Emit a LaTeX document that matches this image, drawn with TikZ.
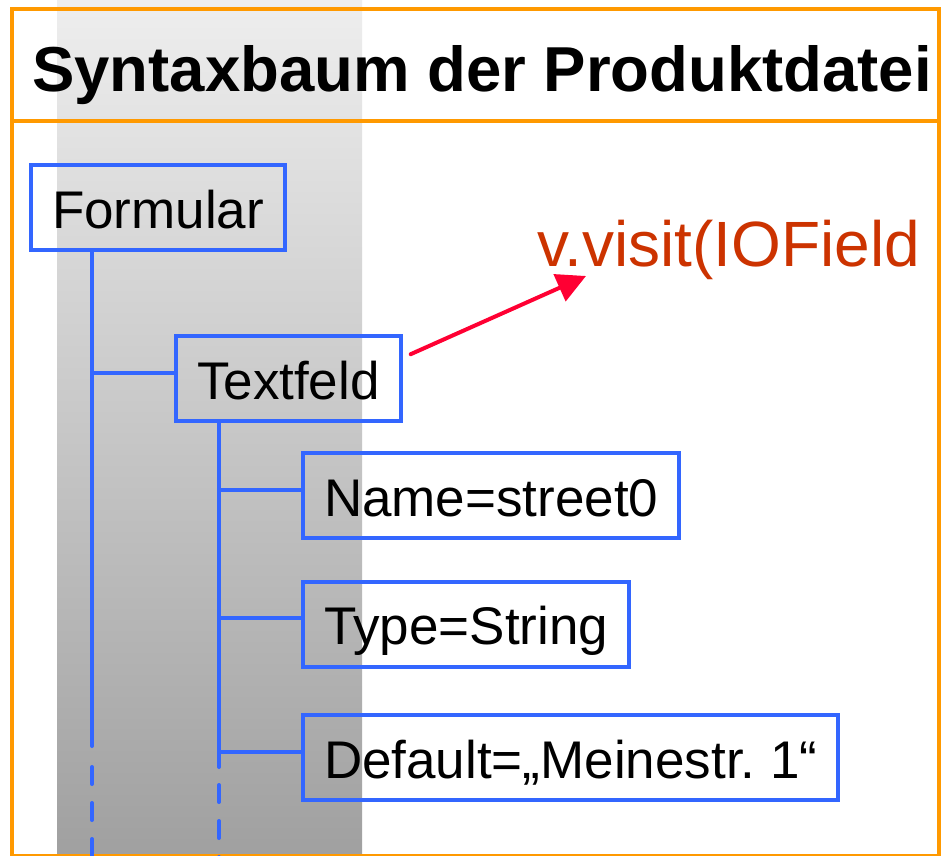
\documentclass[tikz,border=0pt]{standalone}
\usepackage{fontspec}
\setmainfont{Liberation Sans}
\usepackage{xcolor}
\usepackage{tikz}
\usetikzlibrary{arrows.meta}
\definecolor{treeblue}{HTML}{3366FF}
\definecolor{frameorange}{HTML}{FF9900}
\definecolor{arrowred}{HTML}{FF0033}
\definecolor{visitred}{HTML}{CC3300}
\definecolor{bandtop}{HTML}{EEEEEE}
\definecolor{bandbottom}{HTML}{A0A0A0}

\begin{document}
\begin{tikzpicture}[
    x=1pt, y=-1pt,
    treebox/.style={rectangle, draw=treeblue, line width=4pt, anchor=west, inner xsep=21pt, minimum height=85pt, text height=41pt, text depth=0pt, font=\fontsize{53pt}{60pt}\selectfont},
    branch/.style={draw=treeblue, line width=4pt, line cap=round},
    trunkdash/.style={branch, dash pattern=on 17pt off 19pt},
    visitarrow/.style={-{Triangle[length=29pt, width=29pt]}, draw=arrowred, line width=4pt, line cap=round}
]
\useasboundingbox (0,0) rectangle (941,855);
\fill[white] (0,0) rectangle (941,855);
\shade[top color=bandtop, bottom color=bandbottom] (57,0) rectangle (362,855);
\draw[frameorange, line width=4pt] (11.5,9) rectangle (939,856);
\draw[frameorange, line width=4pt] (11.5,120.5) -- (939,120.5);
\node[font=\bfseries\fontsize{63.5pt}{70pt}\selectfont, anchor=base west, inner sep=0pt] (title) at (32,91) {Syntaxbaum der Produktdatei};
\node[treebox] (form) at (29,207.5) {Formular};
\node[treebox] (tf) at (174,378.5) {Textfeld};
\node[treebox] (name) at (301,495.5) {Name=street0};
\node[treebox] (type) at (301,624) {Type=String};
\node[treebox] (dflt) at (301,757.5) {Default=„Meinestr.\ 1“};
\node[text=visitred, font=\fontsize{64pt}{70pt}\selectfont, anchor=base west, inner sep=0pt] (visit) at (537,266) {v.visit(IOField};
\coordinate (formtrunk) at ([xshift=63pt]form.south west);
\coordinate (formend) at (92,746);\coordinate (formdash) at (92,767);\coordinate (formbottom) at (92,870);
\draw[branch] (formtrunk) -- (formend);
\draw[trunkdash] (formdash) -- (formbottom);
\draw[branch] (formtrunk) |- ([yshift=6pt]tf.west);
\coordinate (tftrunk) at ([xshift=45pt]tf.south west);
\coordinate (tfend) at (219,767);\coordinate (tfdash) at (219,785);\coordinate (tfbottom) at (219,870);
\draw[branch] (tftrunk) -- (tfend);
\draw[trunkdash] (tfdash) -- (tfbottom);
\foreach \leaf in {name,type,dflt}
    \draw[branch] (tftrunk) |- ([yshift=6pt]\leaf.west);
\draw[visitarrow] ([xshift=8pt]tf.12) -- ([xshift=49pt,yshift=-10pt]visit.base west);
\end{tikzpicture}
\end{document}
